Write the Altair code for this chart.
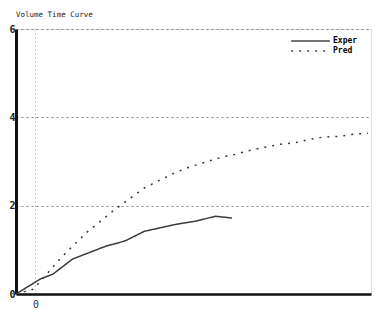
import altair as alt
import pandas as pd

# Experimental curve (time, volume)
exper_t = [-1.0, 0.25, 0.9, 1.9, 3.6, 4.6, 5.6, 7.25, 8.25, 9.25, 10.1]
exper_v = [0.0, 0.34, 0.45, 0.79, 1.08, 1.20, 1.42, 1.58, 1.65, 1.76, 1.72]

# Predicted curve (time, volume)
pred_t = [-1.0, -0.1, 1.25, 1.9, 2.65, 3.6, 4.1, 4.6, 5.6, 6.4, 7.25, 7.9, 8.9,
          9.6, 10.25, 11.0, 11.75, 12.6, 13.4, 14.1, 14.75, 15.6, 16.4, 17.1]
pred_v = [0.0, 0.11, 0.79, 1.08, 1.40, 1.74, 1.92, 2.08, 2.40, 2.58, 2.76, 2.87, 3.01,
          3.10, 3.16, 3.25, 3.32, 3.39, 3.43, 3.50, 3.55, 3.57, 3.62, 3.64]

series_names = ["Exper", "Pred"]
y_ticks = [0, 2, 4, 6]
x_ticks = [0]

rows = []
for t, v in zip(exper_t, exper_v):
    rows.append({"t": t, "v": v, "series": series_names[0]})
for t, v in zip(pred_t, pred_v):
    rows.append({"t": t, "v": v, "series": series_names[1]})
df = pd.DataFrame(rows)

FONT = "DejaVu Sans Mono"

chart = alt.Chart(df).mark_line(strokeWidth=1.5, color="#3a3a3a").encode(
    x=alt.X("t:Q", scale=alt.Scale(domain=[-1.0, 17.25], nice=False, zero=False),
            axis=alt.Axis(values=x_ticks, title=None, grid=True, gridDash=[1, 3],
                          gridColor="#999", domainColor="#111", domainWidth=2.5,
                          ticks=False, labelFont=FONT, labelFontSize=10,
                          labelColor="#333", labelPadding=5)),
    y=alt.Y("v:Q", scale=alt.Scale(domain=[0, 6], nice=False),
            axis=alt.Axis(values=y_ticks, title=None, grid=True, gridDash=[2, 3],
                          gridColor="#888", domainColor="#111", domainWidth=3,
                          ticks=False, labelFont=FONT, labelFontSize=10,
                          labelFontWeight="bold", labelColor="#222",
                          labelPadding=1)),
    strokeDash=alt.StrokeDash("series:N",
                              scale=alt.Scale(domain=series_names,
                                              range=[[1, 0], [2, 6]]),
                              legend=alt.Legend(title=None, orient="none",
                                                legendX=274, legendY=7,
                                                symbolType="stroke",
                                                symbolSize=1500,
                                                symbolStrokeWidth=1.3,
                                                symbolStrokeColor="#444",
                                                clipHeight=10,
                                                labelFont=FONT, labelFontSize=8,
                                                labelFontWeight="bold",
                                                labelOffset=2,
                                                rowPadding=0)),
).properties(
    width=355,
    height=265,
    title=alt.TitleParams("Volume Time Curve", anchor="start", frame="group",
                          font=FONT, fontSize=7.5, fontWeight="normal",
                          color="#222", offset=6),
    padding={"left": 0, "top": 2, "right": 2, "bottom": 2},
).configure_view(stroke=None).configure(background="white")

chart.save("out.html", embed_options={"renderer": "svg", "actions": False})
